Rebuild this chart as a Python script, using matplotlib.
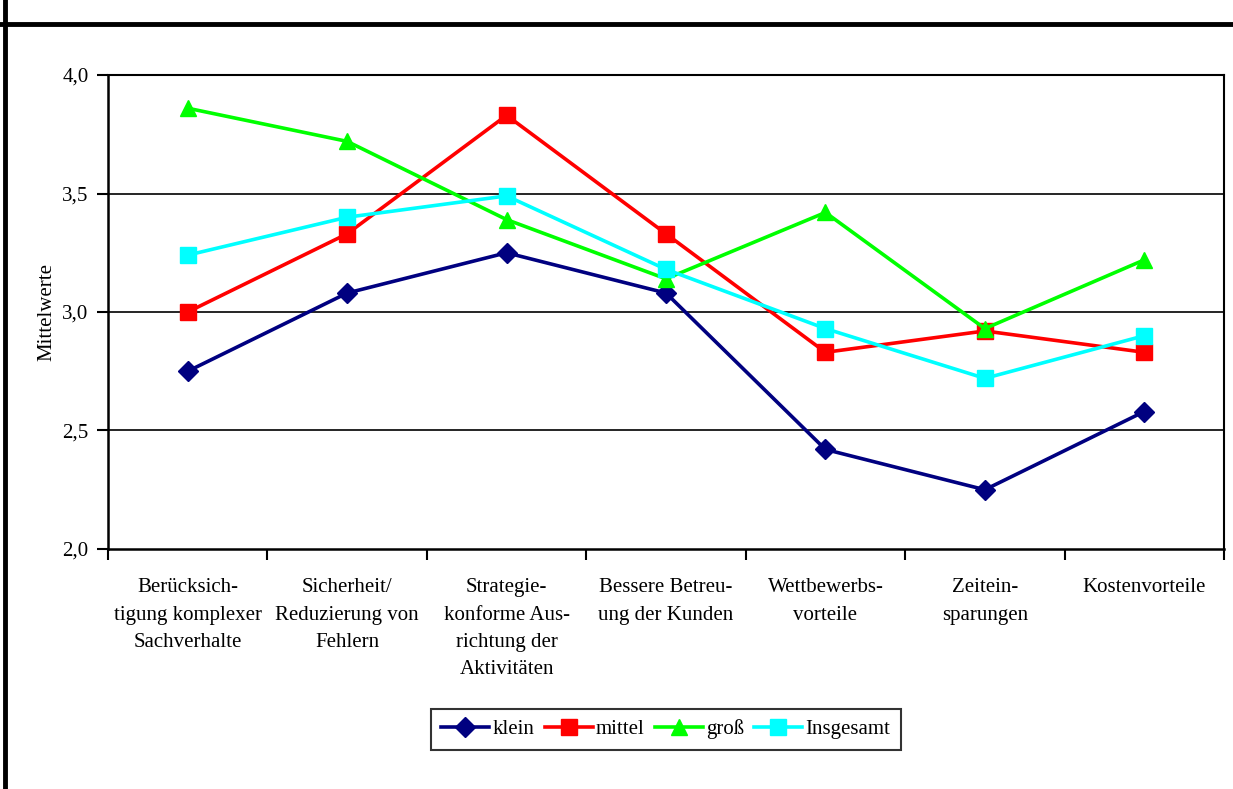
import numpy as np
import matplotlib.pyplot as plt
from matplotlib.lines import Line2D

plt.rcParams["font.family"] = ["Liberation Serif", "DejaVu Serif"]

# Categories and mean values per company size
categories = [
    "Berücksich-\ntigung komplexer\nSachverhalte",
    "Sicherheit/\nReduzierung von\nFehlern",
    "Strategie-\nkonforme Aus-\nrichtung der\nAktivitäten",
    "Bessere Betreu-\nung der Kunden",
    "Wettbewerbs-\nvorteile",
    "Zeitein-\nsparungen",
    "Kostenvorteile",
]
klein = [2.75, 3.08, 3.25, 3.08, 2.42, 2.25, 2.58]
mittel = [3.00, 3.33, 3.83, 3.33, 2.83, 2.92, 2.83]
gross = [3.86, 3.72, 3.39, 3.14, 3.42, 2.93, 3.22]
insgesamt = [3.24, 3.40, 3.49, 3.18, 2.93, 2.72, 2.90]
y_ticks = [2.0, 2.5, 3.0, 3.5, 4.0]

series = [
    ("klein", klein, "#000080", "D", 10),
    ("mittel", mittel, "#FF0000", "s", 11),
    ("groß", gross, "#00FF00", "^", 12),
    ("Insgesamt", insgesamt, "#00FFFF", "s", 11),
]

fs = 15

fig = plt.figure(figsize=(12.33, 7.89), dpi=100)
ax = fig.add_axes([0.0876, 0.3042, 0.9051, 0.6007])

x = np.arange(len(categories))
for name, vals, color, marker, ms in series:
    ax.plot(x, vals, color=color, lw=2.6, marker=marker, ms=ms,
            markeredgecolor=color, label=name, clip_on=False)

# Axes and grid
ax.set_xlim(-0.5, len(categories) - 0.5)
ax.set_ylim(2.0, 4.0)
ax.set_yticks(y_ticks)
ax.set_yticklabels([f"{v:.1f}".replace(".", ",") for v in y_ticks], fontsize=fs)
for v in y_ticks[1:-1]:
    ax.axhline(v, color="black", lw=1.2, zorder=0)

ax.set_xticks(np.arange(-0.5, len(categories), 1.0))
ax.set_xticklabels([])
ax.set_xticks(x, minor=True)
ax.set_xticklabels(categories, minor=True, fontsize=fs, linespacing=1.6,
                   va="top", ha="center")
ax.tick_params(axis="x", which="major", direction="out", length=8, width=1.5)
ax.tick_params(axis="x", which="minor", length=0, pad=21)
ax.tick_params(axis="y", direction="out", length=8, width=1.5, pad=6)
ax.tick_params(axis="y", which="minor", length=0)
for side in ["left", "bottom"]:
    ax.spines[side].set_linewidth(1.8)
for side in ["top", "right"]:
    ax.spines[side].set_linewidth(1.5)

ax.set_ylabel("Mittelwerte", fontsize=fs)
ax.yaxis.set_label_coords(-0.046, 0.5)

leg = fig.legend(loc="center", bbox_to_anchor=(0.54, 0.0755), ncol=4,
                 fontsize=fs, frameon=True, fancybox=False, handlelength=2.3,
                 handletextpad=0.15, columnspacing=0.5, borderpad=0.5,
                 edgecolor="black")
leg.get_frame().set_linewidth(1.5)

# Outer frame lines
fig.add_artist(Line2D([0.004, 0.004], [0, 1], transform=fig.transFigure,
                      color="black", lw=3.5))
fig.add_artist(Line2D([0, 1], [0.969, 0.969], transform=fig.transFigure,
                      color="black", lw=3.5))

fig.savefig("out.png", dpi=100)
